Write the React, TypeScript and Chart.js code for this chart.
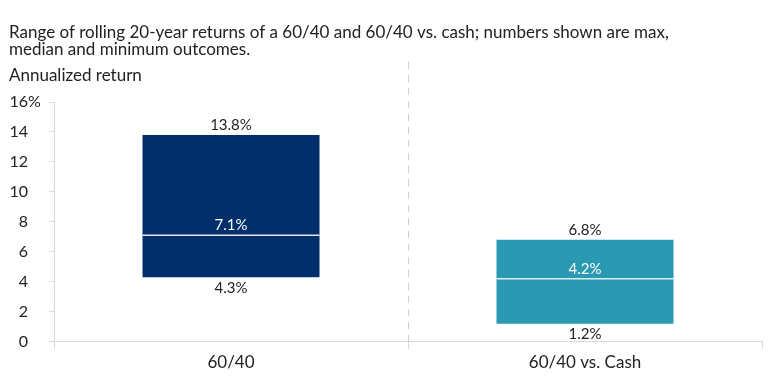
import React, { useEffect, useRef } from "react";
import { Chart, registerables } from "chart.js";

Chart.register(...registerables);

const categories = ["60/40", "60/40 vs. Cash"];
const maxValues = [13.8, 6.8];
const medianValues = [7.1, 4.2];
const minValues = [4.3, 1.2];
const barColors = ["#022E6B", "#2A9AB3"];
const yTickValues = [0, 2, 4, 6, 8, 10, 12, 14, 16];
const titleLines = [
  "Range of rolling 20-year returns of a 60/40 and 60/40 vs. cash; numbers shown are max,",
  "median and minimum outcomes.",
];
const axisTitle = "Annualized return";

const FONT = "Lato, 'Open Sans', sans-serif";
const TEXT = "#222222";
const AXIS = "#d9d9d9";
const Y_TICK_LEN = 5;
const Y_TICK_PAD = 21;

const overlayPlugin = {
  id: "overlay",
  afterDraw(chart: any) {
    const ctx = chart.ctx;
    const xs = chart.scales.x;
    const ys = chart.scales.y;
    const area = chart.chartArea;
    ctx.save();
    // dashed separator between categories
    const midX = (xs.getPixelForValue(0) + xs.getPixelForValue(1)) / 2;
    ctx.strokeStyle = "#cfcfcf";
    ctx.lineWidth = 1;
    ctx.setLineDash([7, 6]);
    ctx.beginPath();
    ctx.moveTo(Math.round(midX) + 0.5, 62);
    ctx.lineTo(Math.round(midX) + 0.5, area.bottom + 7);
    ctx.stroke();
    ctx.setLineDash([]);

    // percent sign on top tick
    const topLabelRight = area.left - Y_TICK_LEN - Y_TICK_PAD;
    ctx.font = `16px ${FONT}`;
    ctx.fillStyle = TEXT;
    ctx.textAlign = "left";
    ctx.textBaseline = "middle";
    ctx.fillText("%", topLabelRight, ys.getPixelForValue(16));

    // medians and labels
    const meta = chart.getDatasetMeta(0);
    meta.data.forEach((bar: any, i: number) => {
      const { x, width } = bar.getProps(["x", "width"], true);
      const yMed = ys.getPixelForValue(medianValues[i]);
      ctx.strokeStyle = "rgba(235,240,250,0.95)";
      ctx.lineWidth = 1.5;
      ctx.beginPath();
      ctx.moveTo(x - width / 2, yMed);
      ctx.lineTo(x + width / 2, yMed);
      ctx.stroke();

      ctx.font = `15px ${FONT}`;
      ctx.textAlign = "center";
      ctx.textBaseline = "middle";
      ctx.fillStyle = TEXT;
      ctx.fillText(`${maxValues[i].toFixed(1)}%`, x, ys.getPixelForValue(maxValues[i]) - 10);
      ctx.fillText(`${minValues[i].toFixed(1)}%`, x, ys.getPixelForValue(minValues[i]) + 11);
      ctx.fillStyle = "#ffffff";
      ctx.fillText(`${medianValues[i].toFixed(1)}%`, x, yMed - 10);
    });
    ctx.restore();
  },
};

export default function App() {
  const canvasRef = useRef<HTMLCanvasElement | null>(null);

  useEffect(() => {
    if (!canvasRef.current) return;
    const chart = new Chart(canvasRef.current, {
      type: "bar",
      data: {
        labels: categories,
        datasets: [
          {
            data: categories.map((_, i) => [minValues[i], maxValues[i]]) as any,
            backgroundColor: barColors,
            borderWidth: 0,
            barPercentage: 1,
            categoryPercentage: 0.5,
          },
        ],
      },
      options: {
        animation: false,
        responsive: false,
        maintainAspectRatio: false,
        layout: { padding: { left: 9, right: 8, top: 0, bottom: 14 } },
        plugins: {
          legend: { display: false },
          tooltip: { enabled: false },
          title: {
            display: true,
            text: titleLines,
            align: "start",
            color: TEXT,
            font: { family: FONT, size: 17, weight: "normal", lineHeight: 1.0 },
            padding: { top: 24.5, bottom: 9 },
          },
          subtitle: {
            display: true,
            text: axisTitle,
            align: "start",
            color: TEXT,
            font: { family: FONT, size: 17, weight: "normal", lineHeight: 1.0 },
            padding: { top: 0, bottom: 17.5 },
          },
        },
        scales: {
          x: {
            grid: {
              display: true,
              drawOnChartArea: false,
              drawTicks: true,
              tickLength: 7,
              color: AXIS,
            },
            border: { display: true, color: AXIS },
            ticks: {
              color: TEXT,
              font: { family: FONT, size: 17 },
              padding: 4,
            },
          },
          y: {
            min: 0,
            max: 16,
            afterFit: (scale: any) => {
              scale.width = 45;
            },
            afterBuildTicks: (scale: any) => {
              scale.ticks = yTickValues.map((v) => ({ value: v }));
            },
            grid: {
              display: true,
              drawOnChartArea: false,
              drawTicks: true,
              tickLength: Y_TICK_LEN,
              color: AXIS,
            },
            border: { display: true, color: AXIS },
            ticks: {
              color: TEXT,
              font: { family: FONT, size: 16 },
              padding: Y_TICK_PAD,
              callback: (v: any) => String(v),
            },
          },
        },
      },
      plugins: [overlayPlugin],
    });
    return () => chart.destroy();
  }, []);

  return (
    <div style={{ position: "fixed", left: 0, top: 0, width: 770, height: 391, background: "#fff" }}>
      <canvas ref={canvasRef} width={770} height={391} style={{ width: 770, height: 391 }} />
    </div>
  );
}
